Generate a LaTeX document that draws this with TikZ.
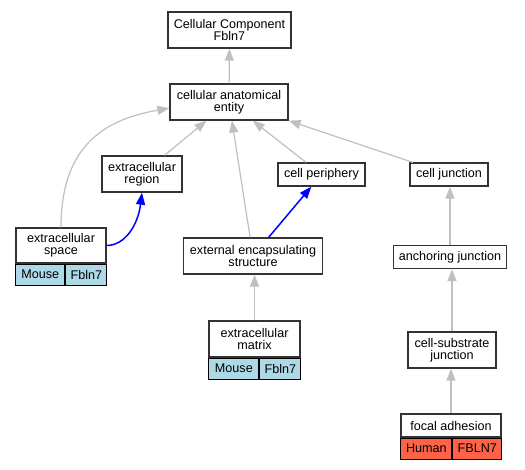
\documentclass[tikz,border=0pt]{standalone}
\usepackage{fontspec}
\setmainfont{Liberation Sans}
\usetikzlibrary{arrows.meta,positioning}
\definecolor{ink}{HTML}{333333}
\definecolor{edgegray}{HTML}{C0C0C0}
\definecolor{edgeblue}{HTML}{0000FF}
\definecolor{mousefill}{HTML}{ADD8E6}
\definecolor{humanfill}{HTML}{FF6347}
\tikzset{
  every node/.style={font=\fontsize{12.6}{12}\selectfont},
  box/.style={draw=ink, line width=1.3pt, fill=white, align=center, inner sep=1pt},
  cell/.style={box, draw=black, line width=1pt, minimum height=21pt, anchor=north west},
  mousecell/.style={cell, fill=mousefill},
  humancell/.style={cell, fill=humanfill},
  arrow/.style={-{Triangle[length=12pt,width=9pt]}, line width=1.2pt, draw=edgegray},
  bluearrow/.style={-{Triangle[length=12pt,width=9pt]}, line width=1.5pt, draw=edgeblue},
}
\begin{document}
\begin{tikzpicture}[x=1pt,y=-1pt]
\fill[white] (0,0) rectangle (525,469);
\useasboundingbox (0,0) rectangle (525,469);
\node[box, minimum width=123pt, minimum height=36pt] (cc) at (229.5,30) {Cellular Component\\Fbln7};
\node[box, minimum width=118pt, minimum height=36pt] (cae) at (229,102) {cellular anatomical\\entity};
\node[box, minimum width=80pt, minimum height=36pt] (er) at (142,174) {extracellular\\region};
\node[box, minimum width=87pt, minimum height=23pt] (cp) at (321.5,174.5) {cell periphery};
\node[box, minimum width=78pt, minimum height=23pt] (cj) at (449,174.5) {cell junction};
\node[box, minimum width=90pt, minimum height=35pt] (es) at (61,245.5) {extracellular\\space};
\node[mousecell, minimum width=49pt] (esm) at (es.south west) {Mouse};
\node[mousecell, minimum width=41pt] (esf) at (esm.north east) {Fbln7};
\node[box, minimum width=139pt, minimum height=36pt] (ees) at (253,256) {external encapsulating\\structure};
\node[box, minimum width=113pt, minimum height=23pt] (aj) at (450,257) {anchoring junction};
\node[box, minimum width=91pt, minimum height=36pt] (ecm) at (254.5,339) {extracellular\\matrix};
\node[mousecell, minimum width=50pt] (ecmm) at (ecm.south west) {Mouse};
\node[mousecell, minimum width=41pt] (ecmf) at (ecmm.north east) {Fbln7};
\node[box, minimum width=88pt, minimum height=36pt] (csj) at (452,350) {cell-substrate\\junction};
\node[box, minimum width=100pt, minimum height=23pt] (fa) at (451,425.5) {focal adhesion};
\node[humancell, minimum width=51pt] (fah) at (fa.south west) {Human};
\node[humancell, minimum width=49pt] (faf) at (fah.north east) {FBLN7};
\draw[arrow] (cae) -- (cc);
\draw[arrow] (er) -- (cae);\draw[arrow] (ees) -- (cae);\draw[arrow] (cp) -- (cae);\draw[arrow] (cj) -- (cae.south east);
\draw[arrow] (es.north) .. controls (61,150) and (100,120) .. (cae.186);
\draw[bluearrow] (es.east) .. controls (125,245.5) and (138,225) .. (er.south);
\draw[bluearrow] (ees) -- (cp);
\draw[arrow] (ecm) -- (ecm |- ees.south);
\draw[arrow] (aj) -- (aj |- cj.south);\draw[arrow] (csj) -- (csj |- aj.south);\draw[arrow] (fa) -- (fa |- csj.south);
\end{tikzpicture}
\end{document}
